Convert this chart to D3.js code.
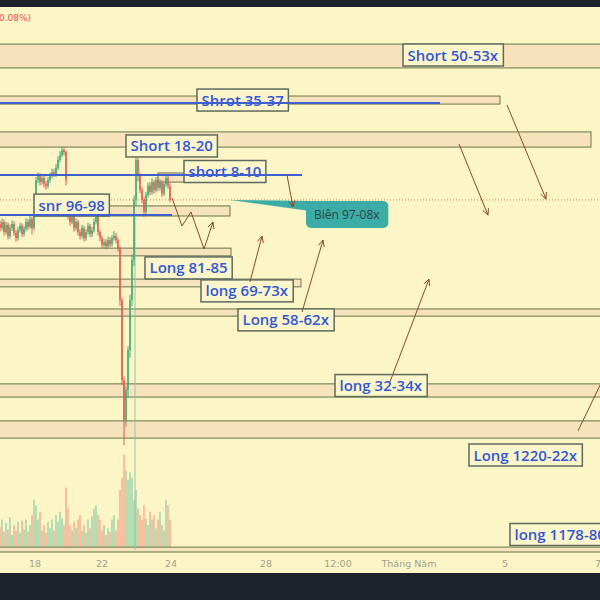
<!DOCTYPE html>
<html><head><meta charset="utf-8">
<script src="https://cdn.jsdelivr.net/npm/d3@7"></script>
<style>html,body{margin:0;padding:0;background:#1e222d;} svg{display:block}</style>
</head><body>
<svg id="c" width="600" height="600"></svg>
<script>
// ---- candle data (bar index = position, prices) ----
const opens=[1292.5,1291.2,1293.3,1289.8,1292.3,1288.4,1291.2,1292.6,1289.5,1287.7,
1290.5,1291.9,1289.1,1290.9,1293.3,1291.6,1294.4,1291.2,1296.1,1307.9,
1309.3,1307.2,1308.6,1306.5,1305.9,1307.9,1309.3,1310.7,1310.0,1312.1,
1314.9,1316.6,1318.4,1317.7,1296.5,1295.7,1293.3,1295.4,1291.2,1293.3,
1289.8,1288.4,1291.2,1287.7,1289.8,1291.9,1289.1,1290.5,1293.3,1295.7,
1289.8,1287.7,1285.3,1286.3,1284.9,1287.0,1285.6,1287.7,1288.4,1287.0,
1284.2,1266.1,1238.2,1224.3,1234.8,1248.7,1266.1,1280.1,1301.0,1314.9,
1309.7,1304.5,1301.0,1296.8,1302.7,1305.9,1303.8,1307.2,1304.5,1307.9,
1305.2,1306.9,1303.1,1306.5,1308.6,1305.9];
const closes=[1291.2,1293.3,1289.8,1292.3,1288.4,1291.2,1292.6,1289.5,1287.7,1290.5,
1291.9,1289.1,1290.9,1293.3,1291.6,1294.4,1291.2,1296.1,1307.9,1309.3,
1307.2,1308.6,1306.5,1305.9,1307.9,1309.3,1310.7,1310.0,1312.1,1314.9,
1316.6,1318.4,1317.7,1307.9,1295.7,1293.3,1295.4,1291.2,1293.3,1289.8,
1288.4,1291.2,1287.7,1289.8,1291.9,1289.1,1290.5,1293.3,1295.7,1289.8,
1287.7,1285.3,1286.3,1284.9,1287.0,1285.6,1287.7,1288.4,1287.0,1284.2,
1266.1,1238.2,1224.3,1234.8,1248.7,1266.1,1280.1,1301.0,1314.9,1309.7,
1304.5,1301.0,1296.8,1302.7,1305.9,1303.8,1307.2,1304.5,1307.9,1305.2,
1306.9,1303.1,1306.5,1308.6,1305.9,1301.0];
const highs=[1293.8,1294.5,1294.2,1293.4,1293.1,1292.4,1293.9,1293.5,1290.4,1291.6,
1293.0,1292.8,1292.0,1294.6,1294.3,1295.6,1295.2,1297.3,1309.0,1310.6,
1310.3,1309.9,1309.6,1307.6,1309.0,1310.5,1311.9,1311.9,1313.5,1316.2,
1318.0,1319.6,1319.4,1318.2,1297.4,1296.6,1296.8,1296.2,1294.6,1294.0,
1290.8,1292.3,1292.0,1290.8,1293.0,1292.7,1291.6,1294.5,1297.8,1296.4,
1290.6,1288.5,1287.4,1287.3,1288.2,1288.0,1288.8,1290.1,1289.4,1287.8,
1285.0,1267.0,1239.5,1236.0,1250.0,1268.0,1282.0,1302.5,1316.8,1315.6,
1310.5,1305.6,1302.0,1303.8,1307.0,1307.2,1308.6,1308.0,1309.0,1308.9,
1308.2,1307.8,1307.6,1309.8,1309.4,1306.8];
const lows=[1290.0,1290.3,1288.6,1289.0,1287.2,1287.5,1290.2,1288.5,1286.4,1286.8,
1289.6,1288.0,1288.2,1290.0,1290.4,1290.9,1289.0,1290.3,1295.3,1306.8,
1306.0,1306.3,1305.3,1304.6,1305.0,1307.0,1308.5,1309.0,1309.0,1311.4,
1314.0,1315.8,1316.5,1306.0,1294.2,1292.0,1292.5,1290.0,1290.3,1288.6,
1287.2,1287.5,1286.5,1286.8,1288.9,1288.0,1288.0,1289.6,1292.4,1288.6,
1286.6,1284.3,1284.2,1283.8,1284.0,1284.5,1284.7,1286.8,1285.8,1283.0,
1264.0,1236.5,1215.6,1222.0,1232.0,1246.0,1264.0,1278.0,1299.0,1307.5,
1303.4,1299.8,1295.0,1296.0,1301.8,1302.6,1302.8,1303.2,1303.6,1304.0,
1304.3,1302.0,1302.4,1305.5,1304.8,1300.2];
const volumes=[18,25,14,22,16,27,11,20,15,23,13,24,16,25,14,20,29,43,38,25,32,15,20,13,23,17,25,15,29,23,32,26,20,54,35,20,15,23,17,25,29,15,20,13,25,17,28,35,38,29,25,15,20,11,17,14,25,29,15,25,52,63,84,70,61,68,63,43,52,35,29,25,38,26,20,32,25,29,17,25,32,20,15,43,38,25];

// ---- time axis ----
const tickLabels=["18","22","24","28","12:00","Tháng Năm","5","7"];
const tickIndex=[17.5,51,85.5,133,169,204.5,252.5,299];

// ---- drawings (bar index, price) ----
const zoneHi=[1355.3,1337.2,1324.7,1310.4,1298.9,1284.2,1273.4,1263.0,1236.9,1224.0,1180.0];
const zoneLo=[1347.0,1334.4,1319.4,1307.2,1295.4,1281.5,1270.7,1260.5,1232.3,1218.0,1178.3];
const zoneFrom=[-5,-5,-5,79,50,-5,-5,-5,-5,-5,-5];
const zoneTo=[305,250,295.5,107.5,115,115.5,150.5,305,305,305,305];

const blueLinePrice=[1334.8,1309.7,1295.7];
const blueLineTo=[220,151,86];

const labelText=["Short 50-53x","Shrot 35-37","Short 18-20","short 8-10","snr 96-98","Long 81-85","long 69-73x","Long 58-62x","long 32-34x","Long 1220-22x","long 1178-80"];
const labelIndex=[201.5,98.5,63,92,17,72.5,100.5,119,167.5,234.5,255];
const labelPrice=[1351.5,1335.8,1319.8,1310.9,1299.2,1277.3,1269.3,1259.2,1236.3,1212.1,1184.4];

const arrowPaths=[
  [[253.5,1334.1],[273,1301.3]],
  [[229.5,1320.5],[244,1295.7]],
  [[143.5,1309.7],[146.5,1298.5]],
  [[86,1301.7],[91,1291.9],[95.5,1296.8],[102,1283.9],[106.5,1293.3]],
  [[125,1272.4],[131,1288.4]],
  [[151,1261.9],[161.5,1287.0]],
  [[195,1237.6],[214.5,1273.4]],
  [[289,1220.5],[302.5,1240.0]]
];
const arrowHead=[true,true,true,true,true,true,true,false];

const currentPrice=1301.0;
const calloutText="Biên 97-08x";
const calloutIndex=153, calloutPrice=1300.6, calloutTail=[115,1301.0];
const vLine={index:67,from:1295.7,to:1179.0};

// ---- scales ----
const svg=d3.select("#c");
const x=d3.scaleLinear().domain([0,300]).range([0,600]);
const y=d3.scaleLinear().domain([1351.5,1179]).range([55,550]);
const vol=d3.scaleLinear().domain([0,100]).range([547,437]);

const BG="#fcf5c6";
svg.append("rect").attr("x",0).attr("y",7).attr("width",600).attr("height",566).attr("fill",BG);
svg.append("rect").attr("x",0).attr("y",0).attr("width",600).attr("height",7).attr("fill","#1e222d");
svg.append("rect").attr("x",0).attr("y",573).attr("width",600).attr("height",27).attr("fill","#1e222d");

svg.append("clipPath").attr("id","clip").append("rect").attr("x",0).attr("y",7).attr("width",600).attr("height",546);
const g=svg.append("g").attr("clip-path","url(#clip)");

// volume
g.selectAll(".vol").data(volumes).join("rect")
  .attr("x",(d,i)=>x(i)-0.8).attr("width",1.6)
  .attr("y",d=>vol(d)).attr("height",d=>vol(0)-vol(d))
  .attr("fill",(d,i)=>closes[i]>=opens[i]?"#6cc29c":"#f08a78").attr("opacity",0.6);

// zones
zoneHi.forEach((hi,i)=>{
  g.append("rect").attr("x",x(zoneFrom[i])).attr("width",x(zoneTo[i])-x(zoneFrom[i]))
   .attr("y",y(hi)).attr("height",y(zoneLo[i])-y(hi))
   .attr("fill","#f6e3bb").attr("stroke","#66764a").attr("stroke-width",1);
});

// current price dotted
g.append("line").attr("x1",0).attr("x2",600).attr("y1",y(currentPrice)).attr("y2",y(currentPrice))
 .attr("stroke","#d9835a").attr("stroke-width",1).attr("stroke-dasharray","1,2");

// vertical line
g.append("line").attr("x1",x(vLine.index)+1).attr("x2",x(vLine.index)+1).attr("y1",y(vLine.from)).attr("y2",y(vLine.to))
 .attr("stroke","#8cc4a0").attr("stroke-width",0.9);

// candles
const up="#3fa877", dn="#dd5a4c";
closes.forEach((c,i)=>{
  const col=c>=opens[i]?up:dn;
  g.append("line").attr("x1",x(i)).attr("x2",x(i)).attr("y1",y(highs[i])).attr("y2",y(lows[i]))
   .attr("stroke",col).attr("stroke-width",1);
  const t=Math.min(y(opens[i]),y(c)), b=Math.max(y(opens[i]),y(c));
  g.append("rect").attr("x",x(i)-0.7).attr("width",1.4).attr("y",t).attr("height",Math.max(1,b-t)).attr("fill",col);
});

// teal callout
const cx=x(calloutIndex), cy=y(calloutPrice);
const ct=g.append("text").attr("font-family","Open Sans, sans-serif").attr("font-size",12)
  .attr("fill","#2b4545").text(calloutText);
const cw=ct.node().getBBox().width+16, ch=27;
g.insert("polygon","text:last-of-type")
 .attr("points",[[x(calloutTail[0]),y(calloutTail[1])],[cx+4,cy],[cx+4,cy+10]].map(p=>p.join(",")).join(" "))
 .attr("fill","#3cada6");
g.insert("rect","text:last-of-type").attr("x",cx).attr("y",cy).attr("width",cw).attr("height",ch).attr("rx",5).attr("fill","#3cada6");
ct.attr("x",cx+8).attr("y",cy+ch/2+4);

// labels
labelText.forEach((t,i)=>{
  const lg=g.append("g");
  const tx=lg.append("text").attr("font-family","Open Sans, sans-serif").attr("font-weight",600).attr("font-size",15)
    .attr("fill","#3358d4").text(t);
  const w=tx.node().getBBox().width+9, h=22;
  const lx=x(labelIndex[i]), ly=y(labelPrice[i])-h/2;
  lg.insert("rect","text").attr("x",lx).attr("y",ly).attr("width",w).attr("height",h)
    .attr("fill","#fdf6cb").attr("stroke","#5c6b5e").attr("stroke-width",1.5);
  tx.attr("x",lx+4.5).attr("y",ly+h/2+5.5);
});

// blue lines
blueLinePrice.forEach((p,i)=>{
  g.append("line").attr("x1",0).attr("x2",x(blueLineTo[i])).attr("y1",y(p)).attr("y2",y(p))
   .attr("stroke","#3d5fcf").attr("stroke-width",2);
});

// arrows
arrowPaths.forEach((pts,i)=>{
  const px=pts.map(p=>[x(p[0]),y(p[1])]);
  g.append("path").attr("d",d3.line()(px)).attr("fill","none").attr("stroke","#8a4a2a").attr("stroke-width",1);
  if(arrowHead[i]){
    const [a,b]=px.slice(-2);
    const ang=Math.atan2(b[1]-a[1],b[0]-a[0]);
    const L=7,sp=0.45;
    const h1=[b[0]-L*Math.cos(ang-sp),b[1]-L*Math.sin(ang-sp)];
    const h2=[b[0]-L*Math.cos(ang+sp),b[1]-L*Math.sin(ang+sp)];
    g.append("path").attr("d",d3.line()([h1,b,h2])).attr("fill","none").attr("stroke","#8a4a2a").attr("stroke-width",1);
  }
});

// time axis labels
tickLabels.forEach((t,i)=>{
  svg.append("text").attr("x",x(tickIndex[i])).attr("y",567).attr("text-anchor","middle")
   .attr("font-family","DejaVu Sans, sans-serif").attr("font-size",9.5).attr("fill","#a3a08c").text(t);
});

// top-left change text
svg.append("text").attr("x",-1).attr("y",21).attr("font-family","DejaVu Sans, sans-serif").attr("font-size",9)
 .attr("fill","#e0524f").text("0.08%)");
</script>
</body></html>
